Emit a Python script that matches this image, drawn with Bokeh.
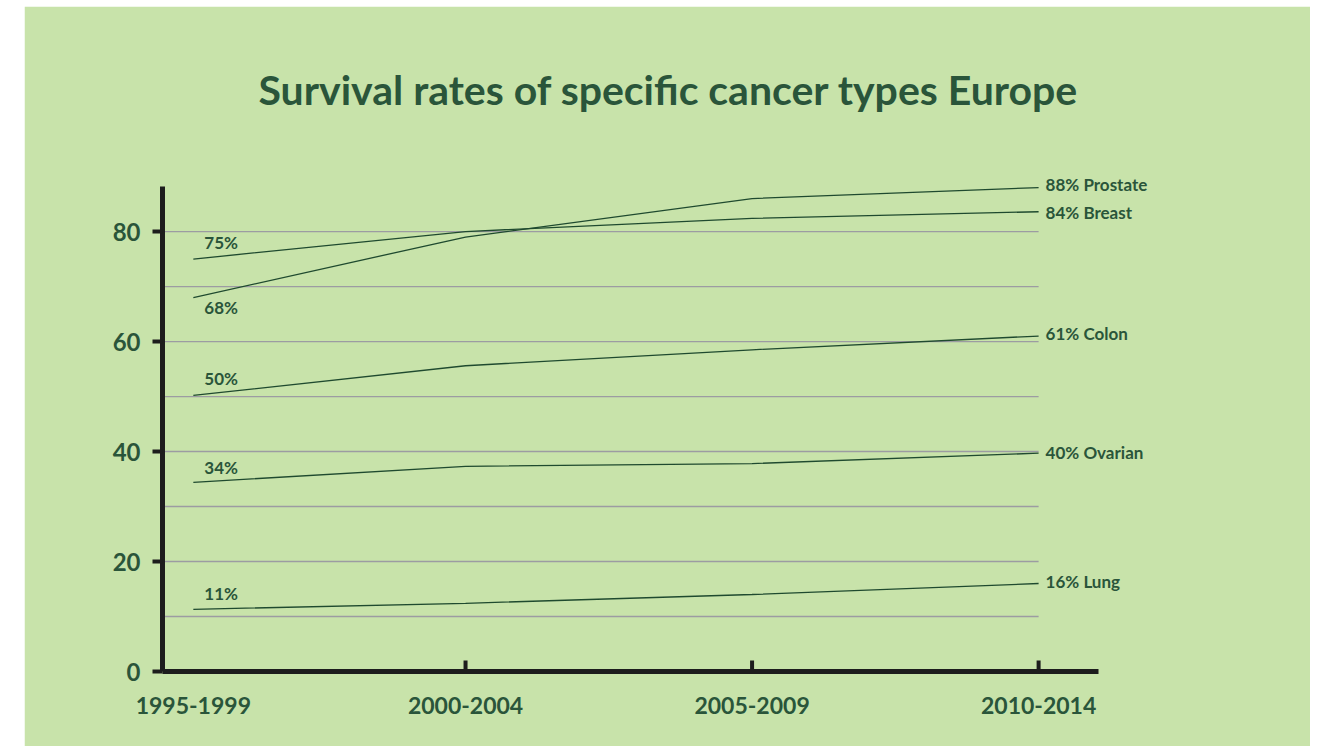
from bokeh.plotting import figure
from bokeh.models import Range1d, FixedTicker, ColumnDataSource
from bokeh.embed import file_html
from bokeh.resources import INLINE
from bokeh.core.properties import value

# ---- data ----
periods = ["1995-1999", "2000-2004", "2005-2009", "2010-2014"]
period_pos = [0.05, 1, 2, 3]
cancer_types = ["Prostate", "Breast", "Colon", "Ovarian", "Lung"]
prostate = [68, 79, 86, 88]
breast = [75, 80, 82.4, 83.6]
colon = [50.2, 55.6, 58.5, 61]
ovarian = [34.4, 37.3, 37.8, 39.7]
lung = [11.3, 12.4, 14, 16]
y_ticks = [0, 20, 40, 60, 80]
grid_values = [10, 20, 30, 40, 50, 60, 70, 80]

series = [prostate, breast, colon, ovarian, lung]

FONT = "Lato"
TXT = "#2a553a"
PANEL = "#c8e3aa"
PAGE = "#e9f3df"
AXIS = "#1d1d1d"
LINE = "#1f4a2f"

X0, X1 = -0.0576, 3.565
AX_X_END = 3.209
Y_AX_END = 88.2

p = figure(width=1286, height=740, output_backend="svg", toolbar_location=None,
           x_range=Range1d(X0, X1), y_range=Range1d(0, 91.1),
           min_border_left=138, min_border_right=110, min_border_top=164,
           min_border_bottom=75)
p.margin = (6, 0, 0, 24)
p.background_fill_color = PANEL
p.border_fill_color = PANEL
p.outline_line_color = PANEL
p.outline_line_width = 2
p.xgrid.visible = False
p.ygrid.visible = False

p.title.text = "Survival rates of specific cancer types Europe"
p.title.align = "left"
p.title.offset = 96
p.title.standoff = 113
p.title.text_font = FONT
p.title.text_font_size = "41px"
p.title.text_font_style = "bold"
p.title.text_color = TXT

# y axis
ya = p.yaxis[0]
ya.ticker = FixedTicker(ticks=y_ticks)
ya.bounds = (0, Y_AX_END)
ya.axis_line_width = 5
ya.axis_line_color = AXIS
ya.major_tick_line_color = AXIS
ya.major_tick_line_width = 4
ya.major_tick_out = 10
ya.major_tick_in = 0
ya.minor_tick_line_color = None
ya.major_label_standoff = 12
ya.major_label_text_font = FONT
ya.major_label_text_font_size = "24px"
ya.major_label_text_font_style = "bold"
ya.major_label_text_color = TXT

# x axis
xa = p.xaxis[0]
xa.ticker = FixedTicker(ticks=period_pos)
xa.bounds = (X0, AX_X_END)
xa.major_label_overrides = {pos: lab for pos, lab in zip(period_pos, periods)}
xa.axis_line_width = 5
xa.axis_line_color = AXIS
xa.major_tick_line_color = None
xa.minor_tick_line_color = None
xa.major_label_standoff = 19
xa.major_label_text_font = FONT
xa.major_label_text_font_size = "23px"
xa.major_label_text_font_style = "bold"
xa.major_label_text_color = TXT

# grid lines ending at last period
p.segment(x0=[X0] * len(grid_values), x1=[period_pos[-1]] * len(grid_values),
          y0=grid_values, y1=grid_values, line_color="#9c9ca2", line_width=1.3)

# inward tick marks on the x axis (not at first period)
p.rect(x=period_pos[1:], y=[0] * (len(period_pos) - 1), width=4, height=22,
       width_units="screen", height_units="screen", fill_color=AXIS, line_color=None)

# lines
for s in series:
    p.line(period_pos, s, line_color=LINE, line_width=1.3)

# start labels
start_src = ColumnDataSource(dict(
    x=[period_pos[0]] * len(series),
    y=[s[0] for s in series],
    t=[f"{round(s[0])}%" for s in series],
    dy=[10, -17, -17, -15, -16],
))
p.text(x="x", y="y", text="t", y_offset="dy", x_offset=11, source=start_src,
       text_font=value(FONT), text_font_size="17px", text_font_style="bold",
       text_color=TXT, text_baseline="middle", text_align="left")

# end labels
end_src = ColumnDataSource(dict(
    x=[period_pos[-1]] * len(series),
    y=[s[-1] for s in series],
    t=[f"{round(s[-1])}% {n}" for s, n in zip(series, cancer_types)],
    dy=[-3, 1, -3, -1, -2],
))
p.text(x="x", y="y", text="t", y_offset="dy", x_offset=7, source=end_src,
       text_font=value(FONT), text_font_size="17px", text_font_style="bold",
       text_color=TXT, text_baseline="middle", text_align="left")

html = file_html(p, INLINE)
html = html.replace("<body>", '<body style="background-color:%s;">' % PAGE, 1)
open("out.html", "w").write(html)
